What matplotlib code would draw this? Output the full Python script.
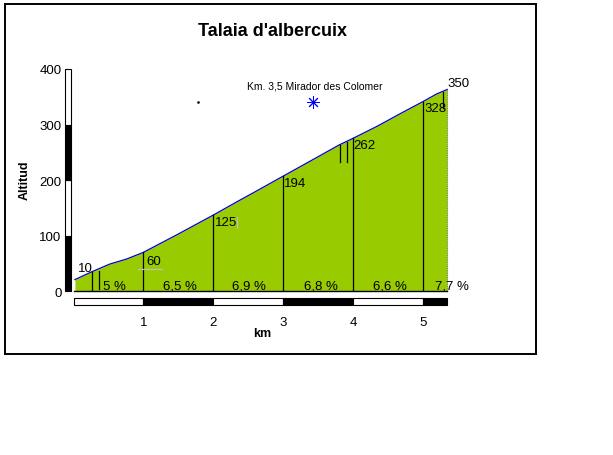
import matplotlib
matplotlib.use("Agg")
import matplotlib.pyplot as plt
from matplotlib.patches import Rectangle

plt.rcParams['font.family'] = ['Liberation Sans', 'DejaVu Sans']

# profile (km, altitude)
km = [0.02, 0.26, 0.52, 0.76, 1.0, 1.5, 2.0, 2.34, 2.6, 3.0, 3.43, 3.8, 4.0, 4.35, 4.7, 5.0, 5.2, 5.35]
alt = [21, 35, 49, 58, 70, 103, 137, 161, 179, 207, 237, 263, 275, 297, 321, 341, 355, 363]

# altitude marks and their labels
mark_km = [0.26, 1, 2, 3, 4, 5]
mark_labels = ["10", "60", "125", "194", "262", "328", "350"]
label_pos = [(0.06, 42), (1.04, 54), (2.03, 125), (3.01, 195), (4.0, 264), (5.02, 330), (5.36, 375)]

# gradients per km
grad_labels = ["5 %", "6,5 %", "6,9 %", "6,8 %", "6,6 %", "7,7 %"]
grad_km = [0.59, 1.52, 2.51, 3.54, 4.53, 5.42]

km_ticks = [1, 2, 3, 4, 5]
alt_ticks = [0, 100, 200, 300, 400]

poi_km, poi_alt = 3.43, 340
poi_label = "Km. 3,5 Mirador des Colomer"

W, H = 613, 456
fig = plt.figure(figsize=(W / 100, H / 100), dpi=100)
x0, y0 = 73.5, 292.3          # pixel position of (0 km, 0 m)
pxkm, pxm = 69.85, 0.556
ax = fig.add_axes([x0 / W, (H - y0) / H, 5.4 * pxkm / W, 400 * pxm / H])
ax.set_xlim(0, 5.4)
ax.set_ylim(0, 400)
for s in ax.spines.values():
    s.set_visible(False)


def height_at(k):
    for i in range(len(km) - 1):
        if km[i] <= k <= km[i + 1]:
            t = (k - km[i]) / (km[i + 1] - km[i])
            return alt[i] + t * (alt[i + 1] - alt[i])
    return alt[-1]


green = "#99cc00"
ax.fill_between(km, 0, alt, color=green, lw=0)
ax.plot(km, alt, color="#0000c8", lw=0.9)
ax.plot([km[-1], km[-1]], [0, alt[-1]], color="#808080", lw=0.8, ls=(0, (1, 1)))

# vertical marks from base to profile
for k in mark_km:
    ax.plot([k, k], [0, height_at(k)], color="black", lw=0.9)

# short extra marks
ax.plot([0.37, 0.37], [4, 37], color="black", lw=0.9)
ax.plot([3.82, 3.82], [232, 263], color="black", lw=0.9)
ax.plot([3.92, 3.92], [232, 269], color="black", lw=0.9)
ax.plot([5.29, 5.29], [329, 358], color="black", lw=0.9)
ax.plot([0.92, 1.27], [39.6, 39.6], color="#c0c0c0", lw=0.9)
ax.plot([2.345, 2.345], [114, 134], color="#c0c0c0", lw=0.9)
ax.plot([0, km[-1]], [0, 0], color="black", lw=1.0, clip_on=False)

for lab, (x, y) in zip(mark_labels, label_pos):
    ax.text(x, y, lab, fontsize=9.5, ha="left", va="center", clip_on=False)
for lab, x in zip(grad_labels, grad_km):
    ax.text(x, 10, lab, fontsize=9.5, ha="center", va="center", clip_on=False)

# point of interest
ax.plot([poi_km], [poi_alt], marker=(8, 2, 0), ms=9, color="#0000ff", mew=0.7)
ax.text(3.457, 370, poi_label, fontsize=7.5, ha="center", va="center")
ax.plot([1.78], [340], marker="s", ms=0.8, color="black")

# altitude scale bar
for i in range(4):
    fc = "black" if i % 2 == 0 else "white"
    ax.add_patch(Rectangle((-0.122, i * 100), 0.086, 100, fc=fc, ec="black", lw=0.8, clip_on=False))
# km scale bar
segs = [0, 1, 2, 3, 4, 5, km[-1]]
for i in range(len(segs) - 1):
    fc = "white" if i % 2 == 0 else "black"
    ax.add_patch(Rectangle((segs[i], -24), segs[i + 1] - segs[i], 11.5, fc=fc, ec="black", lw=0.8, clip_on=False))

ax.set_yticks(alt_ticks)
ax.set_yticklabels([str(a) for a in alt_ticks], fontsize=9.5)
ax.set_xticks(km_ticks)
ax.set_xticklabels([str(k) for k in km_ticks], fontsize=9.5)
ax.tick_params(axis="y", length=0, pad=8.5)
ax.tick_params(axis="x", length=0, pad=18)

fig.text(273 / W, 1 - 31 / H, "Talaia d'albercuix", fontsize=13, fontweight="bold", ha="center", va="center")
fig.text(25 / W, 1 - 180 / H, "Altitud", fontsize=9, fontweight="bold", rotation=90, ha="center", va="center")
fig.text(262 / W, 1 - 334 / H, "km", fontsize=9, fontweight="bold", ha="center", va="center")
fig.patches.append(Rectangle((5 / W, 1 - 355 / H), 531 / W, 350 / H, transform=fig.transFigure,
                             fill=False, ec="black", lw=1.4))

fig.savefig("out.png", dpi=100)
